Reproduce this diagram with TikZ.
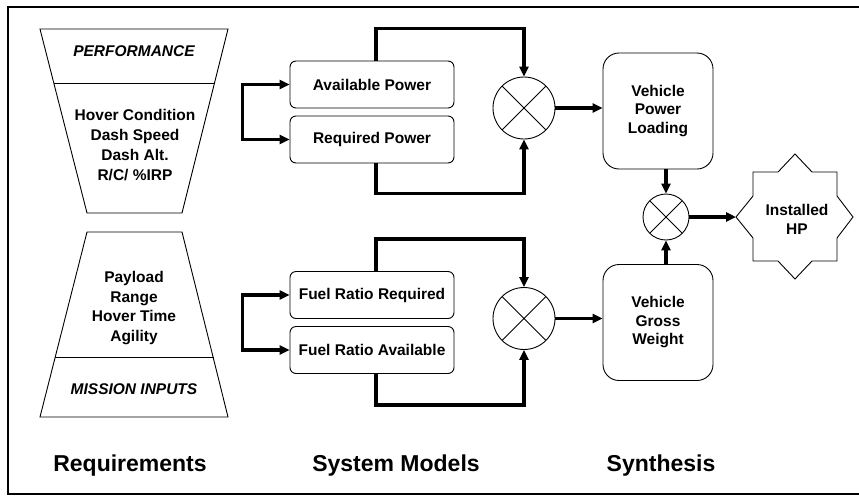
\documentclass[tikz,border=0pt]{standalone}
\usepackage{fontspec}
\setmainfont{Liberation Sans}
\usetikzlibrary{arrows.meta,shapes.geometric}
\begin{document}
\begin{tikzpicture}[x=1pt,y=-1pt,
  every node/.style={font=\bfseries\fontsize{15.5}{19.5}\selectfont, align=center, inner sep=0pt},
  itl/.style={font=\bfseries\itshape\fontsize{15.5}{19.5}\selectfont},
  sbox/.style={draw, line width=0.9pt, rounded corners=6pt, minimum width=164pt, minimum height=47pt},
  vbox/.style={draw, line width=0.9pt, rounded corners=16pt, minimum width=110pt, minimum height=116pt, font=\bfseries\fontsize{15.5}{18.5}\selectfont},
  mult/.style={draw, circle, line width=0.9pt, path picture={\draw[line width=0.9pt] (path picture bounding box.north west) -- (path picture bounding box.south east) (path picture bounding box.south west) -- (path picture bounding box.north east);}},
  tri/.tip={Triangle[length=10pt,width=9pt]},
  flow/.style={line width=3.2pt, -tri},
  flowboth/.style={line width=3.2pt, tri-tri},
  title/.style={font=\bfseries\fontsize{23}{27}\selectfont, anchor=base},
  trap/.style={line width=0.9pt},
]
\useasboundingbox (0,0) rectangle (859,496);
\clip (0,0) rectangle (859,496);
\fill[white] (0,0) rectangle (859,496);
\draw[line width=1.5pt] (8,7) rectangle (880,494);

% Requirements trapezoids
\draw[trap] (40,29) -- (228,29) -- (182,213) -- (87,213) -- cycle;
\draw[trap] (53.8,83) -- (214.2,83);
\draw[trap] (87,232) -- (182,232) -- (228,417) -- (40,417) -- cycle;
\draw[trap] (55.2,357) -- (213.8,357);
\node[itl] (perf) at (134,51) {PERFORMANCE};
\node[font=\bfseries\fontsize{15.5}{20}\selectfont] (perfl) at (135,145) {Hover Condition\\Dash Speed\\Dash Alt.\\R/C/ \%IRP};
\node (missl) at (134,308) {Payload\\Range\\Hover Time\\Agility};
\node[itl] (miss) at (134,389) {MISSION INPUTS};

% System models
\node[sbox] (ap) at (372,84.5) {Available Power};
\node[sbox] (rp) at (372,139.5) {Required Power};
\node[sbox] (frr) at (372,295) {Fuel Ratio Required};
\node[sbox] (fra) at (372,350) {Fuel Ratio Available};
\node[mult, minimum size=62pt] (m1) at (524,108) {};
\node[mult, minimum size=62pt] (m2) at (524,318.5) {};

% Synthesis
\node[vbox] (vpl) at (658,111) {Vehicle\\Power\\Loading};
\node[vbox] (vgw) at (658,322.5) {Vehicle\\Gross\\Weight};
\node[mult, minimum size=46pt] (m3) at (666,217) {};
\draw[line width=0.9pt, shift={(795,217)}]
  (-42,-45) -- (-17,-45) -- (0,-63) -- (17,-45) -- (42,-45) -- (42,-21) -- (58,0) -- (42,21)
  -- (42,44) -- (17,44) -- (0,62) -- (-17,44) -- (-42,44) -- (-42,21) -- (-59,0) -- (-42,-21) -- cycle;
\coordinate (hpw) at (736,217);
\node (hp) at (797,219.5) {Installed\\HP};

% connectors
\draw[flowboth] (ap.west) -- ++(-47,0) |- (rp.west);
\draw[flowboth] (frr.west) -- ++(-47,0) |- (fra.west);
\draw[flow] ([xshift=4pt]ap.north) -- ++(0,-32) -| (m1.north);
\draw[flow] ([xshift=4pt]rp.south) -- ++(0,30) -| (m1.south);
\draw[flow] ([xshift=4pt]frr.north) -- ++(0,-32) -| (m2.north);
\draw[flow] ([xshift=4pt]fra.south) -- ++(0,31) -| (m2.south);
\draw[flow] (m1.east) -- (m1.east -| vpl.west);
\draw[flow] (m2.east) -- (m2.east -| vgw.west);
\draw[flow] (m3.north |- vpl.south) -- (m3.north);
\draw[flow] (m3.south |- vgw.north) -- (m3.south);
\draw[flow] (m3.east) -- (hpw);

% titles
\node[title] (treq) at (130,471) {Requirements};
\node[title] (tsys) at (396,471) {System Models};
\node[title] (tsyn) at (661,471) {Synthesis};
\end{tikzpicture}
\end{document}
